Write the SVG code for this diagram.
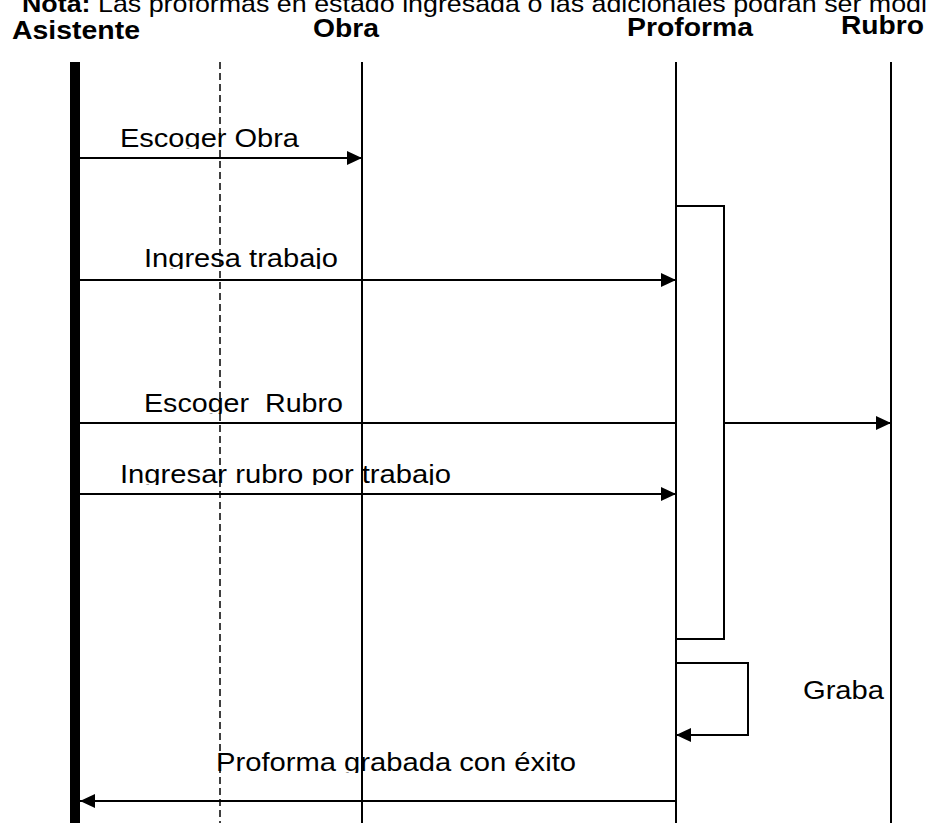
<svg xmlns="http://www.w3.org/2000/svg" width="927" height="823" viewBox="0 0 927 823">
<style>
.hdr{font-family:"Liberation Sans",Arial,sans-serif;font-weight:bold;font-size:25px;fill:#000}
.lbl{font-family:"Liberation Sans",Arial,sans-serif;font-size:26px;fill:#000;white-space:pre}
.note{font-family:"Liberation Sans",Arial,sans-serif;font-size:24px;fill:#000}
.life{stroke:#000;stroke-width:2;fill:none}
.dash{stroke:#000;stroke-width:1.5;stroke-dasharray:7 4;fill:none}
.msg{stroke:#000;stroke-width:2;fill:none;marker-end:url(#arr)}
</style>
<defs>
<marker id="arr" markerUnits="userSpaceOnUse" markerWidth="16" markerHeight="14" refX="15" refY="7" orient="auto">
<path d="M0,0 L15,7 L0,14 Z" fill="#000"/>
</marker>
<clipPath id="c1"><rect x="0" y="100" width="927" height="49"/></clipPath>
<clipPath id="c2"><rect x="0" y="220" width="927" height="49"/></clipPath>
<clipPath id="c3"><rect x="0" y="365" width="927" height="49"/></clipPath>
<clipPath id="c4"><rect x="0" y="436" width="927" height="49"/></clipPath>
<clipPath id="c5"><rect x="0" y="724" width="927" height="49"/></clipPath>
</defs>
<rect width="927" height="823" fill="#fff"/>
<text class="note" x="22" y="12" textLength="905" lengthAdjust="spacingAndGlyphs"><tspan font-weight="bold">Nota:</tspan> Las proformas en estado ingresada o las adicionales podrán ser modi</text>
<g id="labels">
<text class="lbl" x="120" y="146.5" textLength="179" lengthAdjust="spacingAndGlyphs" clip-path="url(#c1)">Escoger Obra</text>
<text class="lbl" x="144" y="266.5" textLength="194" lengthAdjust="spacingAndGlyphs" clip-path="url(#c2)">Ingresa trabajo</text>
<text class="lbl" x="144" y="412" textLength="199" lengthAdjust="spacingAndGlyphs" clip-path="url(#c3)" xml:space="preserve">Escoger  Rubro</text>
<text class="lbl" x="120" y="483" textLength="331" lengthAdjust="spacingAndGlyphs" clip-path="url(#c4)">Ingresar rubro por trabajo</text>
<text class="lbl" x="803" y="699" textLength="81" lengthAdjust="spacingAndGlyphs">Graba</text>
<text class="lbl" x="216" y="771" textLength="360" lengthAdjust="spacingAndGlyphs" clip-path="url(#c5)">Proforma grabada con éxito</text>
</g>
<g id="asistente">
<text class="hdr" x="12" y="39" textLength="128" lengthAdjust="spacingAndGlyphs">Asistente</text>
<rect x="70" y="62" width="10" height="761" fill="#000"/>
</g>
<g id="dashed">
<line class="dash" x1="220" y1="62" x2="220" y2="823"/>
</g>
<g id="obra">
<text class="hdr" x="313" y="36.5" textLength="66" lengthAdjust="spacingAndGlyphs">Obra</text>
<line class="life" x1="362" y1="62" x2="362" y2="823"/>
</g>
<g id="proforma">
<text class="hdr" x="627" y="36" textLength="126" lengthAdjust="spacingAndGlyphs">Proforma</text>
<line class="life" x1="676" y1="62" x2="676" y2="823"/>
</g>
<g id="rubro">
<text class="hdr" x="841" y="33.5" textLength="83" lengthAdjust="spacingAndGlyphs">Rubro</text>
<line class="life" x1="891" y1="62" x2="891" y2="823"/>
</g>
<g id="connectors">
<line class="msg" x1="80" y1="158" x2="362" y2="158"/>
<line class="msg" x1="80" y1="280" x2="676" y2="280"/>
<line class="msg" x1="80" y1="423" x2="891" y2="423"/>
<line class="msg" x1="80" y1="494" x2="676" y2="494"/>
<path class="msg" d="M676,663 H748 V735 H676"/>
<line class="msg" x1="676" y1="801" x2="80" y2="801"/>
</g>
<g id="activation">
<rect x="676" y="206" width="48" height="433" fill="#fff" stroke="#000" stroke-width="2"/>
</g>
</svg>
